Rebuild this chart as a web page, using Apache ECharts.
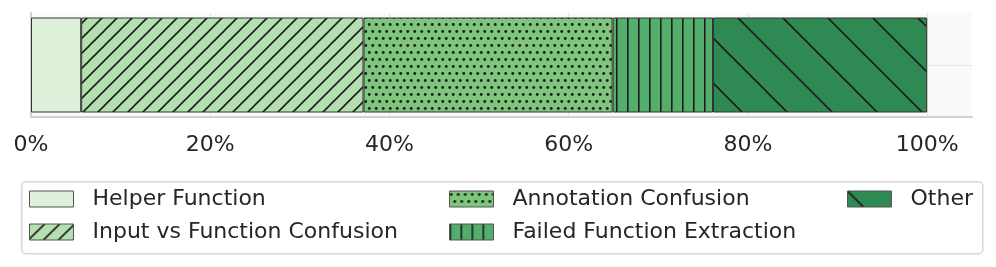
<!DOCTYPE html>
<html>
<head>
<meta charset="utf-8">
<script src="https://cdn.jsdelivr.net/npm/echarts@6/dist/echarts.min.js"></script>
<style>html,body{margin:0;padding:0;background:#fff;}#c{width:996px;height:267px;}</style>
</head>
<body>
<div id="c"></div>
<script>
// ---- data ----
const categories = ['Failures'];
const seriesNames = ['Helper Function', 'Input vs Function Confusion', 'Annotation Confusion', 'Failed Function Extraction', 'Other'];
const helperFunction = [5.6];
const inputVsFunction = [31.5];
const annotationConfusion = [27.8];
const failedExtraction = [11.2];
const otherValues = [23.9];
const tickLabels = ['0%', '20%', '40%', '60%', '80%', '100%'];

// ---- patterns ----
const HATCH = '#1c1c1c';
function tile(w, h, bg, draw) {
  const c = document.createElement('canvas');
  c.width = w; c.height = h;
  const g = c.getContext('2d');
  g.fillStyle = bg; g.fillRect(0, 0, w, h);
  g.strokeStyle = HATCH; g.fillStyle = HATCH; g.lineWidth = 1.6;
  draw(g, w, h);
  return { image: c, repeat: 'repeat' };
}
function fwd(s, bg) { // '/'
  return tile(s, s, bg, (g) => {
    for (const c of [0, s, 2 * s]) {
      g.beginPath(); g.moveTo(c + 1, -1); g.lineTo(c - s - 1, s + 1); g.stroke();
    }
  });
}
function back(s, bg) { // '\'
  return tile(s, s, bg, (g) => {
    for (const c of [-s, 0, s]) {
      g.beginPath(); g.moveTo(c - 1, -1); g.lineTo(c + s + 1, s + 1); g.stroke();
    }
  });
}
function dots(bg) {
  return tile(7, 14, bg, (g) => {
    g.beginPath(); g.arc(1.75, 3.5, 1.45, 0, Math.PI * 2); g.fill();
    g.beginPath(); g.arc(5.25, 10.5, 1.45, 0, Math.PI * 2); g.fill();
  });
}
function vlines(bg) {
  return tile(11, 11, bg, (g) => {
    g.beginPath(); g.moveTo(0.8, 0); g.lineTo(0.8, 11); g.stroke();
  });
}

const fills = [
  '#dff1db',
  fwd(15, '#b4dfaf'),
  dots('#7dc67c'),
  vlines('#52ae6a'),
  back(45, '#2e8a52')
];
const valuesList = [helperFunction, inputVsFunction, annotationConfusion, failedExtraction, otherValues];

const series = seriesNames.map((name, i) => ({
  name: name,
  type: 'bar',
  stack: 'total',
  yAxisIndex: 0,
  barWidth: 95,
  data: valuesList[i],
  itemStyle: { color: fills[i], borderColor: '#333', borderWidth: 1 },
  emphasis: { disabled: true }
}));

const font = "'DejaVu Sans', sans-serif";
const legendText = { fontSize: 22, color: '#262626', fontFamily: font, lineHeight: 22, padding: [0, 0, 0, 14] };
function legend(data, left) {
  return {
    data: data.map(n => ({ name: n, icon: 'rect' })), left: left, top: 188, orient: 'vertical',
    itemWidth: 44, itemHeight: 16, itemGap: 11, z: 5,
    itemStyle: { borderColor: '#555', borderWidth: 1 },
    selectedMode: false, textStyle: legendText, padding: 0
  };
}

const chart = echarts.init(document.getElementById('c'), null, { renderer: 'canvas' });
chart.setOption({
  animation: false,
  backgroundColor: '#fff',
  graphic: [{
    type: 'rect', left: 21, top: 181, z: 0,
    shape: { width: 961, height: 72, r: 4 },
    style: { fill: '#fff', stroke: '#d8d8d8', lineWidth: 1.5 }
  }],
  legend: [
    legend([seriesNames[0], seriesNames[1]], 29),
    legend([seriesNames[2], seriesNames[3]], 449),
    legend([seriesNames[4]], 847)
  ],
  grid: { left: 31, right: 24, top: 13, bottom: 150, show: true, backgroundColor: '#fafafa', borderWidth: 0 },
  xAxis: {
    type: 'value', min: 0, max: 105, interval: 20,
    axisLine: { show: true, onZero: false, lineStyle: { color: '#d0d0d0', width: 2 } },
    axisTick: { show: false },
    axisLabel: {
      fontSize: 22, color: '#262626', fontFamily: font, margin: 17,
      formatter: (v) => (v % 20 === 0 && v <= 100) ? tickLabels[v / 20] : ''
    },
    splitLine: { show: true, showMinLine: false, showMaxLine: false, lineStyle: { color: '#e6e6e6', width: 1 } }
  },
  yAxis: [{
    type: 'category', data: categories,
    axisLine: { show: true, lineStyle: { color: '#d0d0d0', width: 2 } },
    axisTick: { show: false },
    axisLabel: { show: false },
    splitLine: { show: false }
  }, {
    type: 'value', min: -1, max: 1, interval: 1, position: 'left',
    axisLine: { show: false }, axisTick: { show: false }, axisLabel: { show: false },
    splitLine: { show: true, showMinLine: false, showMaxLine: false, lineStyle: { color: '#e6e6e6', width: 1 } }
  }],
  series: series
});
</script>
</body>
</html>
